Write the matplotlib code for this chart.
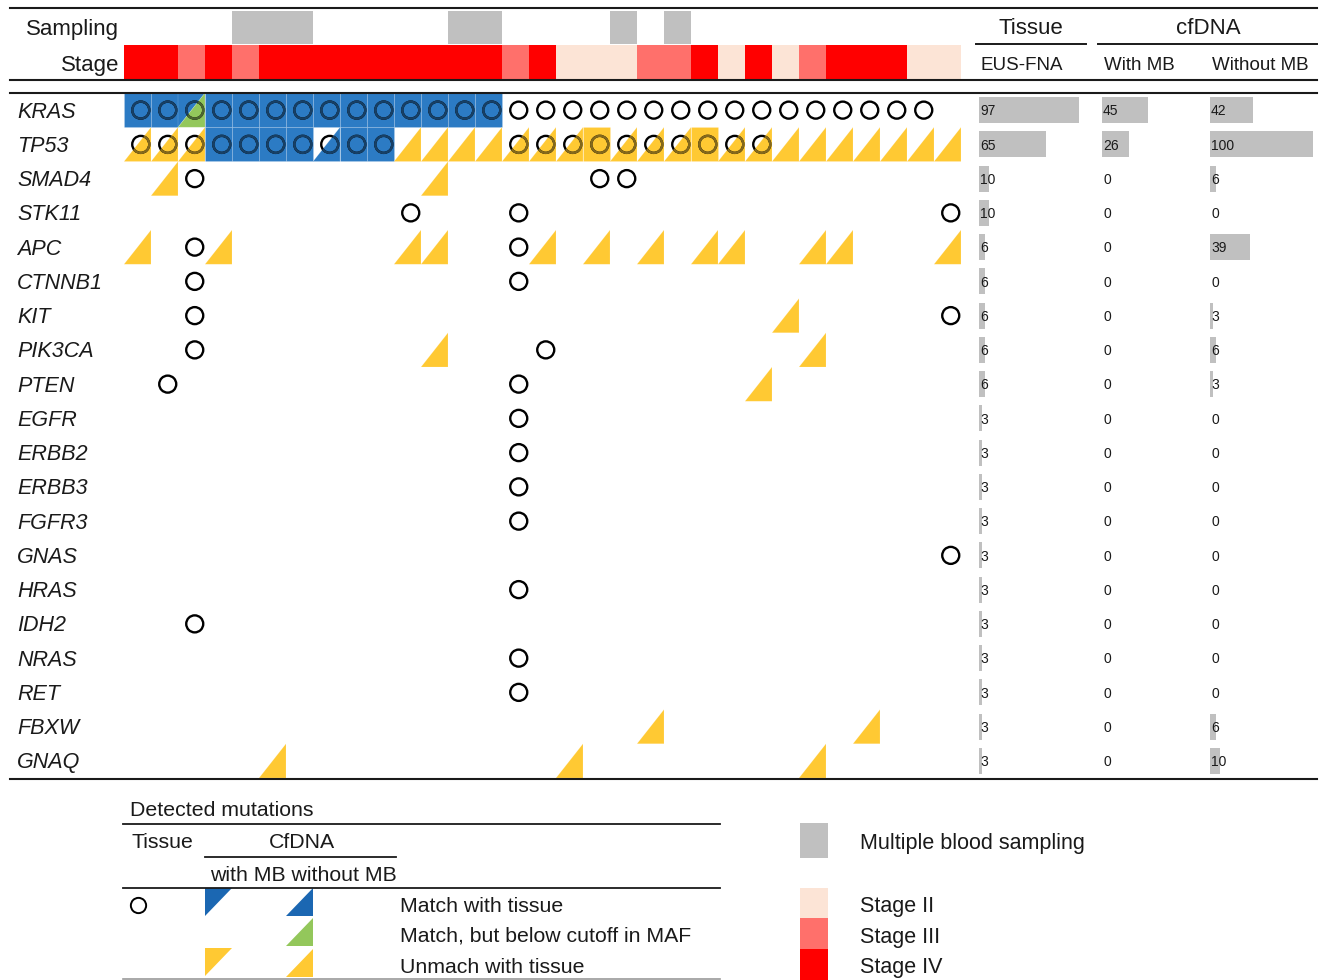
import matplotlib
matplotlib.use("Agg")
import matplotlib.pyplot as plt
from matplotlib import transforms
from matplotlib.lines import Line2D
from matplotlib.patches import Polygon, Rectangle

plt.rcParams["font.family"] = ["Liberation Sans", "DejaVu Sans"]

W, H = 1319, 980

# ---- data -------------------------------------------------------------
genes = ["KRAS", "TP53", "SMAD4", "STK11", "APC", "CTNNB1", "KIT", "PIK3CA",
         "PTEN", "EGFR", "ERBB2", "ERBB3", "FGFR3", "GNAS", "HRAS", "IDH2",
         "NRAS", "RET", "FBXW", "GNAQ"]

# one character per patient (31 patients, grouped by five for reading)
# tissue: o = detected in EUS-FNA tissue
tissue_calls = [
    "ooooo ooooo ooooo ooooo ooooo ooooo .",
    "ooooo ooooo ....o ooooo oooo. ..... .",
    "..o.. ..... ..... ..oo. ..... ..... .",
    "..... ..... o...o ..... ..... ..... o",
    "..o.. ..... ....o ..... ..... ..... .",
    "..o.. ..... ....o ..... ..... ..... .",
    "..o.. ..... ..... ..... ..... ..... o",
    "..o.. ..... ..... o.... ..... ..... .",
    ".o... ..... ....o ..... ..... ..... .",
    "..... ..... ....o ..... ..... ..... .",
    "..... ..... ....o ..... ..... ..... .",
    "..... ..... ....o ..... ..... ..... .",
    "..... ..... ....o ..... ..... ..... .",
    "..... ..... ..... ..... ..... ..... o",
    "..... ..... ....o ..... ..... ..... .",
    "..o.. ..... ..... ..... ..... ..... .",
    "..... ..... ....o ..... ..... ..... .",
    "..... ..... ....o ..... ..... ..... .",
    "..... ..... ..... ..... ..... ..... .",
    "..... ..... ..... ..... ..... ..... .",
]

# cfDNA: M = match with tissue, L = match below MAF cutoff, U = unmatched
with_mb_calls = [
    "MMMMM MMMMM MMMM. ..... ..... ..... .",
    "...MM MM.MM ..... ..U.. .U... ..... .",
] + ["..... ..... ..... ..... ..... ..... ."] * 18

without_mb_calls = [
    "MMLMM MMMMM MMMM. ..... ..... ..... .",
    "UUUMM MMMMM UUUUU UUUUU UUUUU UUUUU U",
    ".U... ..... .U... ..... ..... ..... .",
    "..... ..... ..... ..... ..... ..... .",
    "U..U. ..... UU... U.U.U .UU.. UU... U",
    "..... ..... ..... ..... ..... ..... .",
    "..... ..... ..... ..... ....U ..... .",
    "..... ..... .U... ..... ..... U.... .",
    "..... ..... ..... ..... ...U. ..... .",
    "..... ..... ..... ..... ..... ..... .",
    "..... ..... ..... ..... ..... ..... .",
    "..... ..... ..... ..... ..... ..... .",
    "..... ..... ..... ..... ..... ..... .",
    "..... ..... ..... ..... ..... ..... .",
    "..... ..... ..... ..... ..... ..... .",
    "..... ..... ..... ..... ..... ..... .",
    "..... ..... ..... ..... ..... ..... .",
    "..... ..... ..... ..... ..... ..... .",
    "..... ..... ..... ....U ..... ..U.. .",
    "..... U.... ..... .U... ..... U.... .",
]

sampling = "....x xx... ..xx. ...x. x.... ..... ."
stages = "44343 44444 44443 42223 34242 34442 2"

tissue_pct = [97, 65, 10, 10, 6, 6, 6, 6, 6, 3, 3, 3, 3, 3, 3, 3, 3, 3, 3, 3]
with_mb_pct = [45, 26, 0, 0, 0, 0, 0, 0, 0, 0, 0, 0, 0, 0, 0, 0, 0, 0, 0, 0]
without_mb_pct = [42, 100, 6, 0, 39, 0, 3, 6, 3, 0, 0, 0, 0, 0, 0, 0, 0, 0, 6, 10]


def squeeze(rows):
    return [r.replace(" ", "") for r in rows]


tissue_calls = squeeze(tissue_calls)
with_mb_calls = squeeze(with_mb_calls)
without_mb_calls = squeeze(without_mb_calls)
sampling = sampling.replace(" ", "")
stages = stages.replace(" ", "")
n_pat = len(stages)

# ---- styles -------------------------------------------------------------
CALL_COLORS = {"M": "#2C7BC4", "L": "#93C75B", "U": "#FFC933"}
STAGE_COLORS = {"2": "#FCE4D6", "3": "#FF706B", "4": "#FF0000"}
GRAY = "#C0C0C0"
INK = "#1A1A1A"
LEG_BLUE = "#1B67B2"
CIRCLE_DX = 0.12
TEXT_DY = 2  # px, nudges centred text down to sit on its row


def fx(x):
    return x / W


def fy(y):
    return 1 - y / H


def darken(color, k=0.52):
    r, g, b = matplotlib.colors.to_rgb(color)
    return (r * k, g * k, b * k)


def label(x, y, s, size=15.3, ha="left", **kw):
    fig.text(fx(x), fy(y + TEXT_DY), s, ha=ha, va="center", fontsize=size, color=INK, **kw)


fig = plt.figure(figsize=(W / 100, H / 100), dpi=100)

# ---- mutation grid ------------------------------------------------------
ax = fig.add_axes([fx(124), fy(778), 837 / W, 685 / H])
ax.set_xlim(0, n_pat)
ax.set_ylim(len(genes), 0)
ax.axis("off")

cell_edge = dict(edgecolor=(1, 1, 1, 0.2), linewidth=0.5)
for r in range(len(genes)):
    for c in range(n_pat):
        w = with_mb_calls[r][c]
        wo = without_mb_calls[r][c]
        cell = []
        if w != "." and w == wo:
            p = Rectangle((c, r), 1, 1, facecolor=CALL_COLORS[w], **cell_edge)
            ax.add_patch(p)
            cell.append((p, CALL_COLORS[w]))
        else:
            if w != ".":
                p = Polygon([(c, r), (c + 1, r), (c, r + 1)],
                            facecolor=CALL_COLORS[w], **cell_edge)
                ax.add_patch(p)
                cell.append((p, CALL_COLORS[w]))
            if wo != ".":
                p = Polygon([(c + 1, r + 1), (c + 1, r), (c, r + 1)],
                            facecolor=CALL_COLORS[wo], **cell_edge)
                ax.add_patch(p)
                cell.append((p, CALL_COLORS[wo]))
        if tissue_calls[r][c] == "o":
            xc, yc = c + 0.5 + CIRCLE_DX, r + 0.5
            ax.scatter([xc], [yc], s=150, facecolors="none", edgecolors="black",
                       linewidths=1.7, zorder=3)
            for patch, col in cell:
                sc = ax.scatter([xc], [yc], s=150, facecolors="none",
                                edgecolors=[darken(col)], linewidths=1.7, zorder=4)
                sc.set_clip_path(patch)

# gene names
lab_tr = transforms.blended_transform_factory(fig.transFigure, ax.transData)
for r, g in enumerate(genes):
    ax.text(fx(17), r + 0.56, g, transform=lab_tr, ha="left", va="center",
            fontsize=15.5, style="italic", color=INK)

# ---- header: sampling and stage ----------------------------------------
axh = fig.add_axes([fx(124), fy(80), 837 / W, 70 / H])
axh.set_xlim(0, n_pat)
axh.set_ylim(2, 0)
axh.axis("off")
for c in range(n_pat):
    if sampling[c] == "x":
        axh.add_patch(Rectangle((c, 0.02), 1, 0.96, facecolor=GRAY, edgecolor="none"))
    axh.add_patch(Rectangle((c, 1.0), 1, 1.0, facecolor=STAGE_COLORS[stages[c]],
                            edgecolor="none"))

label(119, 27, "Sampling", size=16, ha="right")
label(119, 63, "Stage", size=16, ha="right")

# ---- frequency bars -----------------------------------------------------
for left, vals in [(979, tissue_pct), (1102, with_mb_pct), (1210, without_mb_pct)]:
    axb = fig.add_axes([fx(left), fy(778), 103 / W, 685 / H])
    axb.set_xlim(0, 100)
    axb.set_ylim(len(genes), 0)
    axb.axis("off")
    ys = [r + 0.5 for r in range(len(genes))]
    axb.barh(ys, vals, height=0.76, color=GRAY)
    for y, v in zip(ys, vals):
        axb.text(1.0, y + 0.04, str(v), ha="left", va="center", fontsize=10, color=INK)

label(1031, 27, "Tissue", size=16, ha="center")
label(1208, 26, "cfDNA", size=16, ha="center")
label(981, 63, "EUS-FNA", size=13.5)
label(1104, 63, "With MB", size=13.5)
label(1212, 63, "Without MB", size=13.5)


def hline(x0, x1, y, lw=1.5, color=INK):
    fig.add_artist(Line2D([fx(x0), fx(x1)], [fy(y), fy(y)], transform=fig.transFigure,
                          color=color, linewidth=lw))


hline(10, 1317, 8.5)
hline(10, 1317, 80.5)
hline(10, 1317, 93)
hline(10, 1317, 778.5)
hline(976, 1086, 44, lw=1.4)
hline(1098, 1317, 44, lw=1.4)

# ---- legend: detected mutations -----------------------------------------
label(130, 808, "Detected mutations")
hline(123, 720, 824, lw=1.3)
label(132, 840, "Tissue")
label(302, 840, "CfDNA", ha="center")
hline(205, 396, 857, lw=1.3)
label(210, 873, "with MB without MB")
hline(123, 720, 888, lw=1.3)
hline(123, 720, 979, lw=1.2, color="#9A9A9A")

fig.add_artist(Line2D([fx(138)], [fy(905)], transform=fig.transFigure, marker="o",
                      markersize=11, markerfacecolor="none", markeredgecolor="black",
                      markeredgewidth=1.4, linestyle="none"))


def leg_tri(x0, y0, kind, color):
    x1, y1 = x0 + 27, y0 + 28
    if kind == "with":
        pts = [(x0, y0), (x1, y0), (x0, y1)]
    else:
        pts = [(x1, y1), (x1, y0), (x0, y1)]
    fig.add_artist(Polygon([(fx(a), fy(b)) for a, b in pts], closed=True,
                           transform=fig.transFigure, facecolor=color, edgecolor="none"))


leg_tri(205, 888, "with", LEG_BLUE)
leg_tri(286, 888, "without", LEG_BLUE)
leg_tri(286, 918, "without", CALL_COLORS["L"])
leg_tri(205, 948, "with", CALL_COLORS["U"])
leg_tri(286, 949, "without", CALL_COLORS["U"])

label(400, 904, "Match with tissue")
label(400, 934, "Match, but below cutoff in MAF")
label(400, 965, "Unmach with tissue")


# ---- legend: sampling and stage -----------------------------------------
def leg_box(y0, y1, color):
    fig.add_artist(Rectangle((fx(800), fy(y1)), 28 / W, (y1 - y0) / H,
                             transform=fig.transFigure, facecolor=color, edgecolor="none"))


leg_box(823, 858, GRAY)
leg_box(888, 918, STAGE_COLORS["2"])
leg_box(918, 949, STAGE_COLORS["3"])
leg_box(949, 980, STAGE_COLORS["4"])
label(860, 841, "Multiple blood sampling", size=15.5)
label(860, 904, "Stage II", size=15.5)
label(860, 935, "Stage III", size=15.5)
label(860, 965, "Stage IV", size=15.5)

fig.savefig("out.png", dpi=100)
